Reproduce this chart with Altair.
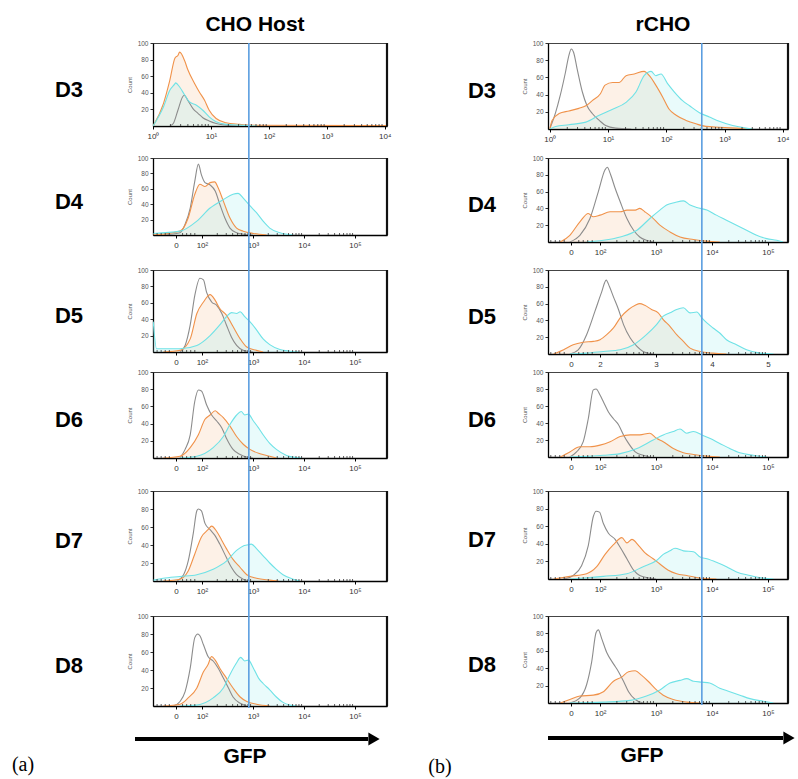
import math
import altair as alt
import pandas as pd

# ---------------- axis ticks / labels ----------------
LOG_TICKS = [0, 1, 2, 3, 4]
LOG_LABELS = ["10⁰", "10¹", "10²", "10³", "10⁴"]
CHO_BIEX_TICKS = [1.49, 2, 3, 4, 5]
RCHO_BIEX_TICKS = [1.48, 2, 3, 4, 5]
BIEX_LABELS = ["0", "10²", "10³", "10⁴", "10⁵"]
BIEX_LABELS_PLAIN = ["0", "2", "3", "4", "5"]
COUNT_TICKS = [20, 40, 60, 80, 100]
LOG_DECADES = [0, 1, 2, 3]
BIEX_DECADES = [2, 3, 4, 5]
BIEX_LOW_TICKS = [1.12, 1.2, 1.28, 1.36, 1.62, 1.7, 1.78, 1.86]

CHO_LOG_DOMAIN = [0, 4.04]
CHO_BIEX_DOMAIN = [1.04, 5.63]
RCHO_LOG_DOMAIN = [-0.03, 4.09]
RCHO_BIEX_DOMAIN = [1.07, 5.36]

GATE_CHO_LOG = 1.655
GATE_CHO_BIEX = 2.92
GATE_RCHO_LOG = 2.61
GATE_RCHO_BIEX = 3.82

# ---------------- histogram data (x in decades of GFP, count) ----------------
# CHO Host
CHO_D3_GREY = [(0.29,0),(0.35,3),(0.43,19),(0.51,35),(0.54,37),(0.60,31),(0.69,21),(0.78,15),(0.86,10),(0.97,6),(1.09,3),(1.26,1),(1.6,0)]
CHO_D3_ORANGE = [(0.0,0),(0.18,27),(0.29,55),(0.38,82),(0.43,85),(0.46,89),(0.55,78),(0.60,68),(0.72,51),(0.80,41),(0.89,31),(0.97,19),(1.09,9),(1.26,4),(1.49,2),(1.66,1),(4.04,0.5)]
CHO_D3_CYAN = [(0.0,0),(0.18,23),(0.29,43),(0.38,51),(0.39,52),(0.46,47),(0.55,37),(0.63,29),(0.75,25),(0.86,19),(0.97,11),(1.09,5),(1.26,2),(1.49,1),(1.8,0)]

CHO_D4_GREY = [(1.24,0),(1.57,3),(1.67,14),(1.77,35),(1.86,70),(1.93,92),(1.99,78),(2.06,68),(2.16,65),(2.26,57),(2.35,40),(2.45,22),(2.55,9),(2.68,3),(2.81,1),(3.0,0)]
CHO_D4_ORANGE = [(1.045,0),(1.57,5),(1.73,22),(1.86,53),(1.96,66),(2.06,63),(2.16,68),(2.25,69),(2.32,61),(2.42,44),(2.55,22),(2.68,9),(2.81,5),(3.01,2),(3.27,0)]
CHO_D4_CYAN = [(1.05,2),(1.57,5),(1.90,18),(2.16,35),(2.42,46),(2.61,53),(2.71,54),(2.81,48),(2.94,38),(3.07,29),(3.20,18),(3.33,9),(3.53,3),(3.79,0)]

CHO_D5_GREY = [(1.57,0),(1.67,8),(1.77,33),(1.86,69),(1.96,90),(2.03,88),(2.09,73),(2.19,61),(2.29,57),(2.39,47),(2.48,33),(2.58,18),(2.68,8),(2.81,2),(3.0,0)]
CHO_D5_ORANGE = [(1.24,0),(1.57,2),(1.77,16),(1.90,47),(2.03,61),(2.16,70),(2.26,63),(2.35,53),(2.48,45),(2.61,31),(2.75,16),(2.88,6),(3.07,2),(3.20,0)]
CHO_D5_CYAN = [(1.045,37),(1.11,4),(1.57,4),(1.90,8),(2.16,20),(2.35,33),(2.48,43),(2.58,48),(2.68,47),(2.75,49),(2.84,43),(2.94,37),(3.07,27),(3.20,16),(3.33,9),(3.53,3),(3.73,1),(3.9,0)]

CHO_D6_GREY = [(1.57,0),(1.67,10),(1.77,27),(1.86,66),(1.93,79),(1.99,78),(2.09,62),(2.19,50),(2.29,43),(2.39,35),(2.48,23),(2.61,10),(2.75,4),(2.88,1),(3.0,0)]
CHO_D6_ORANGE = [(1.24,0),(1.57,2),(1.77,12),(1.93,27),(2.06,45),(2.16,50),(2.26,55),(2.32,52),(2.42,47),(2.55,37),(2.68,25),(2.81,16),(2.94,10),(3.14,5),(3.33,2),(3.46,0)]
CHO_D6_CYAN = [(1.57,0),(1.90,2),(2.22,12),(2.42,25),(2.55,39),(2.68,50),(2.77,54),(2.84,50),(2.91,51),(3.01,43),(3.11,35),(3.20,27),(3.33,17),(3.46,10),(3.66,3),(3.79,1),(3.95,0)]

CHO_D7_GREY = [(1.51,0),(1.64,7),(1.73,22),(1.83,53),(1.90,78),(1.93,80),(1.99,78),(2.06,64),(2.16,57),(2.25,51),(2.35,41),(2.48,26),(2.58,15),(2.68,7),(2.81,2),(2.95,0)]
CHO_D7_ORANGE = [(1.24,0),(1.57,2),(1.73,11),(1.86,30),(1.99,49),(2.12,57),(2.19,61),(2.29,55),(2.39,45),(2.48,36),(2.61,24),(2.75,15),(2.88,7),(3.07,3),(3.33,1),(3.5,0)]
CHO_D7_CYAN = [(1.05,1),(1.24,3),(1.57,5),(1.90,7),(2.22,13),(2.48,22),(2.68,34),(2.81,39),(2.88,40),(2.97,41),(3.07,36),(3.20,28),(3.33,20),(3.46,13),(3.59,7),(3.79,2),(3.92,0)]

CHO_D8_GREY = [(1.44,0),(1.57,5),(1.67,16),(1.77,42),(1.86,76),(1.92,80),(1.96,78),(2.03,68),(2.12,55),(2.22,50),(2.32,42),(2.42,31),(2.52,20),(2.61,10),(2.75,3),(2.88,0)]
CHO_D8_ORANGE = [(1.24,0),(1.57,2),(1.73,9),(1.90,20),(2.03,38),(2.12,46),(2.19,55),(2.26,51),(2.35,42),(2.48,31),(2.61,20),(2.75,10),(2.88,5),(3.07,2),(3.33,0)]
CHO_D8_CYAN = [(1.57,0),(1.90,1),(2.22,9),(2.42,20),(2.55,35),(2.68,48),(2.76,54),(2.84,50),(2.91,51),(3.01,42),(3.11,31),(3.20,25),(3.33,18),(3.46,10),(3.59,4),(3.73,1),(3.85,0)]

# rCHO
RCHO_D3_GREY = [(0.0,0),(0.10,19),(0.18,39),(0.27,66),(0.33,86),(0.37,93),(0.41,89),(0.47,70),(0.56,43),(0.64,27),(0.73,18),(0.85,10),(0.96,4),(1.13,1),(1.4,0)]
RCHO_D3_ORANGE = [(0.0,0),(0.04,10),(0.16,18),(0.33,21),(0.50,24),(0.62,27),(0.73,33),(0.87,41),(0.95,51),(1.08,54),(1.19,54),(1.31,62),(1.45,64),(1.62,67),(1.71,62),(1.82,51),(1.94,37),(2.05,23),(2.17,16),(2.34,10),(2.51,6),(2.68,3),(2.91,2),(3.2,1),(3.49,0)]
RCHO_D3_CYAN = [(0.0,0),(0.10,3),(0.33,5),(0.62,8),(0.85,16),(1.08,23),(1.31,31),(1.48,43),(1.62,62),(1.74,67),(1.82,62),(1.91,64),(2.02,53),(2.14,43),(2.28,33),(2.40,27),(2.57,19),(2.74,14),(2.91,9),(3.14,4),(3.37,1),(3.49,0)]

RCHO_D4_GREY = [(1.46,0),(1.64,8),(1.82,28),(1.97,60),(2.09,86),(2.13,89),(2.19,80),(2.27,64),(2.36,48),(2.48,28),(2.60,14),(2.71,6),(2.83,2),(2.95,0)]
RCHO_D4_ORANGE = [(1.29,0),(1.46,8),(1.64,24),(1.79,34),(1.88,30),(2.0,32),(2.18,36),(2.36,36),(2.48,38),(2.63,38),(2.71,40),(2.80,36),(2.92,30),(3.07,20),(3.25,12),(3.43,6),(3.67,3),(3.90,1),(4.14,0)]
RCHO_D4_CYAN = [(1.76,0),(2.06,2),(2.36,6),(2.66,14),(2.89,28),(3.07,38),(3.19,44),(3.34,47),(3.49,49),(3.61,44),(3.73,41),(3.91,38),(4.08,32),(4.26,26),(4.44,20),(4.62,14),(4.80,8),(4.98,4),(5.16,2),(5.27,0)]

RCHO_D5_GREY = [(1.46,0),(1.61,5),(1.76,23),(1.91,51),(2.03,74),(2.11,88),(2.17,80),(2.24,68),(2.33,53),(2.42,35),(2.54,19),(2.66,9),(2.77,3),(2.95,0)]
RCHO_D5_ORANGE = [(1.17,0),(1.35,5),(1.52,11),(1.70,14),(1.88,15),(2.0,17),(2.12,23),(2.24,31),(2.36,43),(2.51,53),(2.63,58),(2.71,60),(2.80,58),(2.92,53),(3.04,49),(3.13,41),(3.25,33),(3.37,23),(3.49,15),(3.61,7),(3.79,3),(4.02,1),(4.26,0)]
RCHO_D5_CYAN = [(1.46,0),(1.76,1),(2.06,3),(2.36,5),(2.60,11),(2.83,23),(3.01,35),(3.13,45),(3.25,49),(3.37,53),(3.49,55),(3.61,49),(3.73,50),(3.82,43),(3.91,37),(4.02,31),(4.14,25),(4.26,17),(4.44,11),(4.62,5),(4.86,1),(5.10,0)]

RCHO_D6_GREY = [(1.46,0),(1.58,6),(1.70,18),(1.79,45),(1.88,79),(1.93,80),(2.0,73),(2.06,65),(2.15,53),(2.24,45),(2.33,38),(2.42,26),(2.51,16),(2.63,6),(2.77,2),(2.89,0)]
RCHO_D6_ORANGE = [(1.29,0),(1.46,6),(1.64,12),(1.82,12),(2.0,14),(2.18,18),(2.36,24),(2.54,26),(2.71,26),(2.89,28),(3.01,22),(3.13,18),(3.31,10),(3.49,5),(3.67,3),(3.91,1),(4.14,0)]
RCHO_D6_CYAN = [(1.46,0),(2.06,2),(2.36,4),(2.66,10),(2.95,20),(3.13,26),(3.31,30),(3.43,33),(3.55,28),(3.67,30),(3.82,26),(3.96,22),(4.14,16),(4.32,10),(4.50,5),(4.74,2),(4.98,0)]

RCHO_D7_GREY = [(1.35,0),(1.52,4),(1.67,15),(1.79,38),(1.88,71),(1.93,77),(1.99,76),(2.06,63),(2.15,52),(2.27,45),(2.36,36),(2.48,23),(2.60,10),(2.71,4),(2.89,1),(3.0,0)]
RCHO_D7_ORANGE = [(1.17,0),(1.46,3),(1.76,6),(1.94,14),(2.09,28),(2.24,39),(2.39,47),(2.48,41),(2.57,45),(2.69,38),(2.80,30),(2.95,23),(3.07,17),(3.22,10),(3.37,6),(3.55,4),(3.79,1),(4.08,0)]
RCHO_D7_CYAN = [(1.46,0),(2.06,3),(2.48,6),(2.77,14),(3.01,21),(3.13,28),(3.25,32),(3.34,35),(3.49,32),(3.67,31),(3.79,25),(3.91,23),(4.08,19),(4.26,14),(4.44,8),(4.68,4),(4.92,1),(5.10,0)]

RCHO_D8_GREY = [(1.46,0),(1.64,6),(1.76,21),(1.85,47),(1.93,81),(1.97,84),(2.03,74),(2.12,58),(2.24,45),(2.33,36),(2.42,25),(2.51,13),(2.63,4),(2.77,0)]
RCHO_D8_ORANGE = [(1.29,0),(1.46,4),(1.64,8),(1.88,9),(2.06,13),(2.24,25),(2.39,30),(2.51,36),(2.63,37),(2.74,32),(2.86,25),(3.01,15),(3.13,9),(3.31,4),(3.55,1),(3.79,0)]
RCHO_D8_CYAN = [(1.46,0),(2.06,1),(2.54,3),(2.83,8),(3.07,15),(3.25,23),(3.43,26),(3.55,28),(3.67,25),(3.82,24),(3.96,23),(4.14,17),(4.32,13),(4.50,9),(4.68,5),(4.92,2),(5.10,0)]

DAYS = ["D3", "D4", "D5", "D6", "D7", "D8"]
CHO_SERIES = [
    (CHO_D3_GREY, CHO_D3_ORANGE, CHO_D3_CYAN),
    (CHO_D4_GREY, CHO_D4_ORANGE, CHO_D4_CYAN),
    (CHO_D5_GREY, CHO_D5_ORANGE, CHO_D5_CYAN),
    (CHO_D6_GREY, CHO_D6_ORANGE, CHO_D6_CYAN),
    (CHO_D7_GREY, CHO_D7_ORANGE, CHO_D7_CYAN),
    (CHO_D8_GREY, CHO_D8_ORANGE, CHO_D8_CYAN),
]
RCHO_SERIES = [
    (RCHO_D3_GREY, RCHO_D3_ORANGE, RCHO_D3_CYAN),
    (RCHO_D4_GREY, RCHO_D4_ORANGE, RCHO_D4_CYAN),
    (RCHO_D5_GREY, RCHO_D5_ORANGE, RCHO_D5_CYAN),
    (RCHO_D6_GREY, RCHO_D6_ORANGE, RCHO_D6_CYAN),
    (RCHO_D7_GREY, RCHO_D7_ORANGE, RCHO_D7_CYAN),
    (RCHO_D8_GREY, RCHO_D8_ORANGE, RCHO_D8_CYAN),
]

# ---------------- styles / layout ----------------
CHO_GREY_COLORS = ["#8c8c8c", "#5a5a5a", "#6a6a6a", "#151515", "#333333", "#151515"]
RCHO_GREY_COLORS = ["#3a3a3a", "#444444", "#444444", "#555555", "#333333", "#444444"]
ORANGE = "#f0924a"
CYAN = "#6fe2e6"
ORANGE_FILL = "#f9c8a0"
CYAN_FILL = "#a6eef0"
BLUE = "#5b9ee0"

COL_W = {"cho": 234, "rcho": 240}
PANEL_H = {"cho": [83, 77, 82, 86, 90, 90], "rcho": [86, 84, 84, 85, 88, 87]}
ROW_TOP = [0, 115, 227, 329, 448, 573]
SPACER_H = [29, 28, 18, 33, 35]

FONT = "Liberation Sans"


def label_expr(ticks, labels):
    expr = "''"
    for t, l in reversed(list(zip(ticks, labels))):
        expr = f"abs(datum.value - {t}) < 0.001 ? '{l}' : ({expr})"
    return expr


def minor_ticks(decades, extra=()):
    out = list(extra)
    for k in decades:
        for m in range(2, 10):
            out.append(round(k + math.log10(m), 4))
    return out


def one(**kw):
    return pd.DataFrame({k: [v] for k, v in kw.items()})


def text_layer(txt, x, y, size, weight="bold", font=FONT, align="center"):
    return alt.Chart(one(t=txt)).mark_text(
        font=font, fontSize=size, fontWeight=weight, color="black",
        align=align, baseline="middle"
    ).encode(text="t:N", x=alt.value(x), y=alt.value(y))


def panel(col, i):
    w = COL_W[col]
    h = PANEL_H[col][i]
    day = DAYS[i]
    if col == "cho":
        grey, orange, cyan = CHO_SERIES[i]
        grey_col = CHO_GREY_COLORS[i]
        if i == 0:
            ticks, labels, domain, gate = LOG_TICKS, LOG_LABELS, CHO_LOG_DOMAIN, GATE_CHO_LOG
            minors = minor_ticks(LOG_DECADES)
        else:
            ticks, labels, domain, gate = CHO_BIEX_TICKS, BIEX_LABELS, CHO_BIEX_DOMAIN, GATE_CHO_BIEX
            minors = minor_ticks(BIEX_DECADES[:-1], BIEX_LOW_TICKS)
        label_x = -84
    else:
        grey, orange, cyan = RCHO_SERIES[i]
        grey_col = RCHO_GREY_COLORS[i]
        if i == 0:
            ticks, labels, domain, gate = LOG_TICKS, LOG_LABELS, RCHO_LOG_DOMAIN, GATE_RCHO_LOG
            minors = minor_ticks(LOG_DECADES)
        else:
            lab = BIEX_LABELS_PLAIN if i == 2 else BIEX_LABELS
            ticks, labels, domain, gate = RCHO_BIEX_TICKS, lab, RCHO_BIEX_DOMAIN, GATE_RCHO_BIEX
            minors = minor_ticks(BIEX_DECADES[:-1], BIEX_LOW_TICKS)
        label_x = -66

    rows = []
    for name, pts in (("grey", grey), ("orange", orange), ("cyan", cyan)):
        for x, c in pts:
            rows.append({"series": name, "x": x, "count": c})
    df = pd.DataFrame(rows)

    x_enc = alt.X(
        "x:Q",
        scale=alt.Scale(domain=domain, nice=False, zero=False),
        axis=alt.Axis(
            values=ticks, labelExpr=label_expr(ticks, labels), title=None, grid=False,
            labelFontSize=8, labelFont=FONT, labelColor="#333", labelPadding=3,
            tickSize=3, tickColor="#000", domainColor="#000", domainWidth=1.3,
            labelFlush=False, labelOverlap=False,
        ),
    )
    y_enc = alt.Y(
        "count:Q",
        stack=None,
        scale=alt.Scale(domain=[0, 100], nice=False),
        axis=alt.Axis(
            values=COUNT_TICKS, title="Count", grid=False,
            labelFontSize=6.5, labelFont=FONT, labelColor="#555", labelPadding=2,
            tickSize=3, tickColor="#333", domainColor="#000", domainWidth=1.3,
            titleFontSize=6, titleFont=FONT, titleFontWeight="normal", titleColor="#555",
            titlePadding=5,
        ),
    )

    base = alt.Chart(df)
    areas = base.transform_filter("datum.series != 'grey'").mark_area(
        interpolate="monotone", clip=True, fillOpacity=0.25
    ).encode(
        x=x_enc, y=y_enc,
        fill=alt.Fill("series:N", scale=alt.Scale(domain=["orange", "cyan"], range=[ORANGE_FILL, CYAN_FILL]), legend=None),
    )
    lines = base.mark_line(interpolate="monotone", clip=True, strokeWidth=1.1).encode(
        x=x_enc, y=y_enc,
        stroke=alt.Stroke("series:N", scale=alt.Scale(domain=["grey", "orange", "cyan"], range=[grey_col, ORANGE, CYAN]), legend=None),
    )

    minor_layer = alt.Chart(pd.DataFrame({"x": minors})).mark_rule(
        color="#333", strokeWidth=0.8, clip=True
    ).encode(x=x_enc, y=alt.value(h - 2), y2=alt.value(h + 2))

    gap_above = 0 if i == 0 else ROW_TOP[i] - (ROW_TOP[i - 1] + PANEL_H[col][i - 1])
    gap_below = 2 if i == 5 else 0
    gate_layer = alt.Chart(one(x=gate)).mark_rule(color=BLUE, strokeWidth=1.6).encode(
        x=x_enc, y=alt.value(-gap_above), y2=alt.value(h + gap_below)
    )
    edge = alt.Chart(one(a=0)).mark_rule(color="#111", strokeWidth=2.2).encode(
        x=alt.value(w), y=alt.value(0), y2=alt.value(h)
    )
    layers = [areas, lines, minor_layer, gate_layer, edge, text_layer(day, label_x, h / 2 + 5, 22)]

    if i == 0:
        if col == "cho":
            layers.append(text_layer("CHO Host", 102, -18, 21))
        else:
            layers.append(text_layer("rCHO", 115, -18, 21))
    if i == 5:
        top = ROW_TOP[5]
        if col == "cho":
            ay = 739 - 43 - top
            layers.append(alt.Chart(one(a=0)).mark_rule(color="black", strokeWidth=4).encode(
                x=alt.value(-18), x2=alt.value(215), y=alt.value(ay)))
            layers.append(alt.Chart(one(a=0)).mark_point(shape="triangle-right", filled=True, color="black", opacity=1, size=170).encode(
                x=alt.value(221), y=alt.value(ay)))
            layers.append(text_layer("GFP", 92, 757 - 43 - top, 21))
            layers.append(text_layer("(a)", -130, 765 - 43 - top, 20, weight="normal", font="Liberation Serif"))
        else:
            ay = 738 - 43 - top
            layers.append(alt.Chart(one(a=0)).mark_rule(color="black", strokeWidth=4).encode(
                x=alt.value(0), x2=alt.value(235), y=alt.value(ay)))
            layers.append(alt.Chart(one(a=0)).mark_point(shape="triangle-right", filled=True, color="black", opacity=1, size=170).encode(
                x=alt.value(241), y=alt.value(ay)))
            layers.append(text_layer("GFP", 94, 756 - 43 - top, 21))
            layers.append(text_layer("(b)", -108, 767 - 43 - top, 20, weight="normal", font="Liberation Serif"))

    return alt.layer(*layers).properties(
        width=w, height=h,
        view=alt.ViewBackground(stroke="#444", strokeWidth=1, strokeOpacity=1),
    )


def spacer(col, hgt):
    return alt.Chart(one(a=0)).mark_point(opacity=0).encode(
        x=alt.value(0), y=alt.value(0)
    ).properties(
        width=COL_W[col], height=hgt,
        view=alt.ViewBackground(stroke="transparent", strokeOpacity=0),
    )


cells = []
for i in range(6):
    cells.append(panel("cho", i))
    cells.append(panel("rcho", i))
    if i < 5:
        cells.append(spacer("cho", SPACER_H[i]))
        cells.append(spacer("rcho", SPACER_H[i]))

chart = alt.concat(
    *cells, columns=2, spacing={"row": 0, "column": 161}, bounds="flush", align="each"
).properties(
    autosize=alt.AutoSizeParams(type="none"),
    padding={"left": 153, "top": 43, "right": 645, "bottom": 736},
    background="white",
).configure_view(strokeOpacity=0)

chart.save("out.html", embed_options={"renderer": "svg", "actions": False})
